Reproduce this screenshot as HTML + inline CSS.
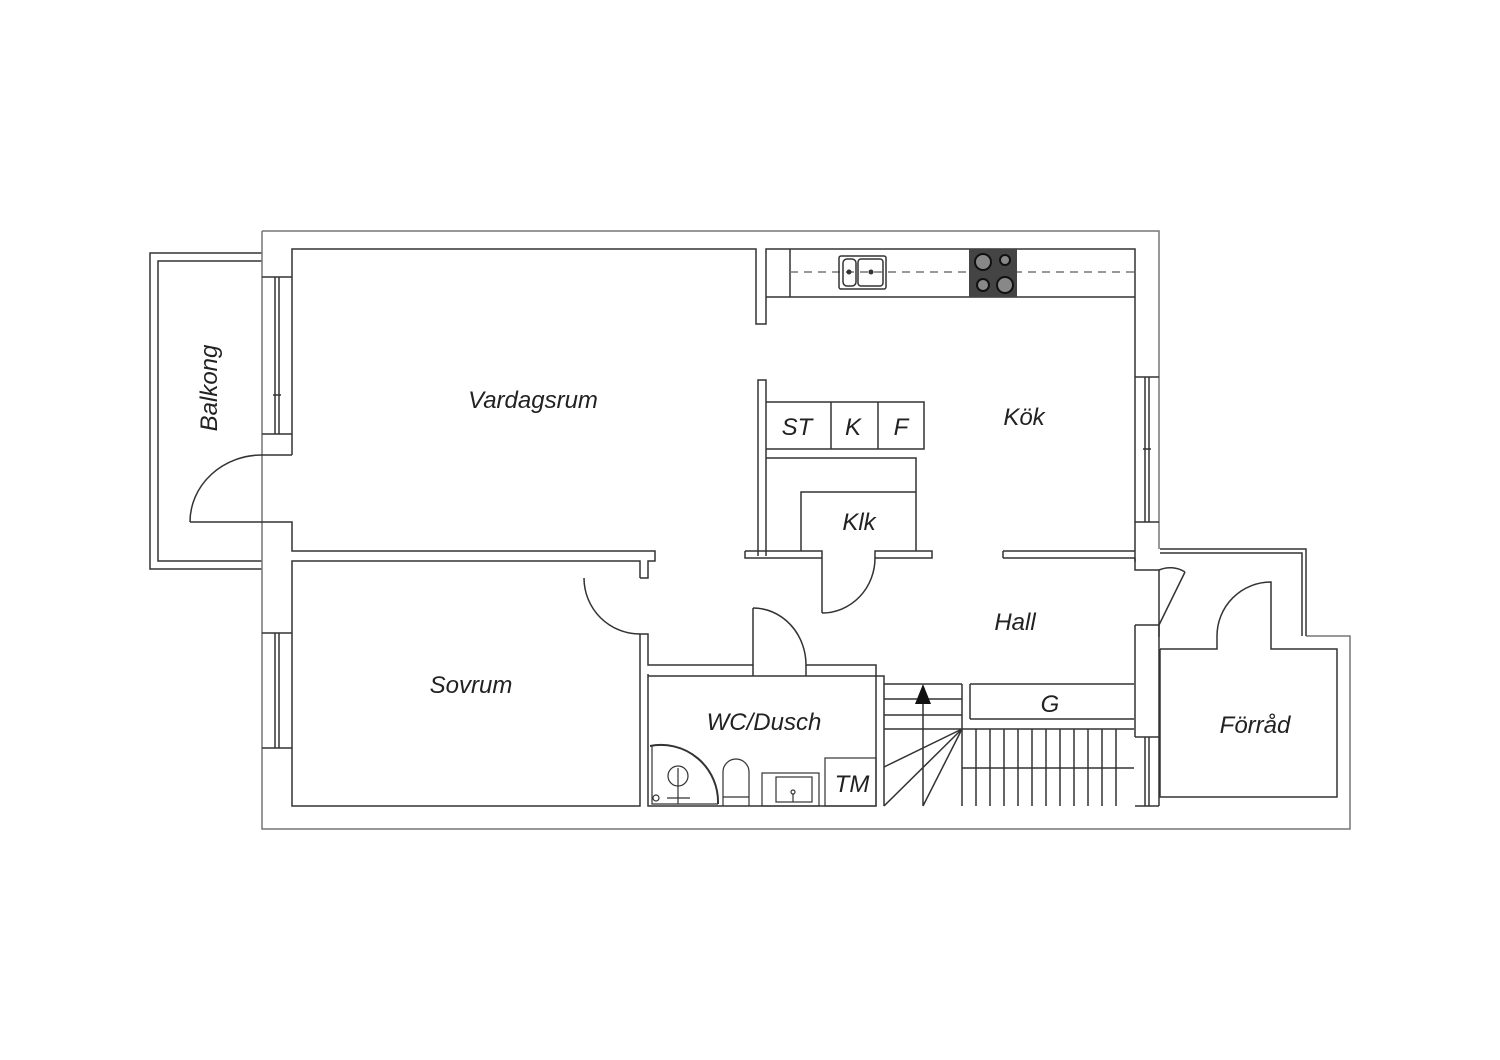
<!DOCTYPE html>
<html><head><meta charset="utf-8"><style>
html,body{margin:0;padding:0;background:#fff;}
svg{display:block;}
text{font-family:"Liberation Sans",sans-serif;font-style:italic;fill:#222;}
</style></head><body>
<svg width="1500" height="1060" viewBox="0 0 1500 1060" xmlns="http://www.w3.org/2000/svg">
<g fill="none" stroke="#333" stroke-width="1.5">
<!-- balcony -->
<path d="M262,253 H150 V569 H262"/>
<path d="M262,261 H158 V561 H262"/>
<!-- outer boundary -->
<path d="M262,231 H1159 V549" stroke="#777"/>
<path d="M262,231 V829 H1350 V636 H1306" stroke="#777"/>
<!-- storage corridor rail -->
<path d="M1160,549 H1306 V636"/>
<path d="M1160,553 H1302 V636"/>
<!-- left wall windows -->
<path d="M262,277 H292 M262,434 H292 M275,277 V434 M279,277 V434 M273,395 H281"/>
<path d="M262,633 H292 M262,748 H292 M275,633 V748 M279,633 V748"/>
<!-- Vardagsrum inner -->
<path d="M292,455 V249 H756 V324 H766 V249 H1135 V551"/>
<path d="M262,455 H292 M262,522 H292 V551 H655 V561 H648 V578 H640"/>
<!-- balcony door -->
<path d="M190,522 H262"/>
<path d="M262,455 A72,67 0 0 0 190,522"/>
<!-- Sovrum -->
<path d="M640,578 V561 H292 V806 H640 V634 H648 V665 H753 V608"/>
<path d="M584,578 A56,56 0 0 0 640,634"/>
<!-- WC -->
<path d="M753,608 A53,57 0 0 1 806,665 H876 V676 H884 V806"/>
<path d="M648,674 V806 H876 V676 H806 M806,665 V676 H753 M753,665 V676 H648"/>
<!-- kitchen right wall & windows -->
<path d="M1135,551 V562 H1135"/>
<path d="M1135,377 H1159 M1135,522 H1159 M1145,377 V522 M1149,377 V522 M1143,449 H1151"/>
<path d="M1003,551 H1135 M1003,558 H1135 M1003,551 V558 M1135,558 V570 H1159 M1135,625 V737 M1135,737 H1159 M1135,806 H1159 M1145,737 V806 M1149,737 V806 M1159,625 V806"/>
<path d="M1135,625 H1159 M1159,570 V637"/>
<path d="M1159,625 L1185,572 M1159,570 A28,28 0 0 1 1185,572"/>
<!-- Förråd -->
<path d="M1160,649 H1217 V636 M1271,636 V649 H1337 V797 H1160 V649"/>
<path d="M1217,636 A54,54 0 0 1 1271,582 V636"/>
<!-- counter -->
<path d="M766,297 H1135 M790,249 V297"/>
<path d="M790,272 H1135" stroke="#777" stroke-dasharray="8,6"/>
<rect x="839" y="256" width="47" height="33" rx="2"/>
<rect x="843" y="259" width="13" height="27" rx="4"/>
<rect x="858" y="259" width="25" height="27" rx="3"/>
<!-- closet -->
<path d="M758,556 V380 H766 V556"/>
<path d="M766,402 H924 V449 H766 M831,402 V449 M878,402 V449"/>
<path d="M766,458 H916 V551 M801,551 V492 H916"/>
<path d="M745,551 H822 V558 M745,551 V558 H822 M875,551 H932 V558 H875 Z"/>
<path d="M822,613 A53,55 0 0 0 875,558"/>
<path d="M822,558 V613"/>
<!-- stairs -->
<path d="M884,684 H962 M884,699 H962 M884,715 H962 M884,729 H1134 M962,684 V806 M970,684 H1134 M970,719 H1134 M970,684 V719 M962,768 H1134"/>
<path d="M976,729V806M990,729V806M1004,729V806M1018,729V806M1032,729V806M1046,729V806M1060,729V806M1074,729V806M1088,729V806M1102,729V806M1116,729V806"/>
<path d="M962,729 L884,767 M962,729 L884,806 M962,729 L923,806 M923,806 V700"/>
</g>
<polygon points="923,684 915,704 931,704" fill="#111"/>
<!-- hob -->
<rect x="969" y="249" width="48" height="48" fill="#444"/>
<g fill="#888" stroke="#111" stroke-width="2">
<circle cx="983" cy="262" r="8"/><circle cx="1005" cy="260" r="5"/>
<circle cx="983" cy="285" r="6"/><circle cx="1005" cy="285" r="8"/>
</g>
<circle cx="849" cy="272" r="2.5" fill="#333"/><circle cx="871" cy="272" r="2.5" fill="#333"/>
<!-- WC fixtures -->
<g fill="none" stroke="#333" stroke-width="1.2">
<path d="M650,746 A57,57 0 0 1 718,804" stroke-width="2"/>
<path d="M652,746 V804 H718"/>
<circle cx="678" cy="776" r="10"/>
<path d="M678,768 V804 M667,798 H690"/>
<circle cx="656" cy="798" r="3"/>
<path d="M723,806 V772 A13,13 0 0 1 749,772 V806 M723,797 H749"/>
<rect x="762" y="773" width="57" height="33"/>
<rect x="776" y="777" width="36" height="25"/>
<path d="M793,794 V802"/><circle cx="793" cy="792" r="2"/>
<rect x="825" y="758" width="51" height="48"/>
</g>
<!-- labels -->
<g font-size="24">
<text x="533" y="408" text-anchor="middle">Vardagsrum</text>
<text x="1024" y="425" text-anchor="middle">Kök</text>
<text x="797" y="435" text-anchor="middle">ST</text>
<text x="853" y="435" text-anchor="middle">K</text>
<text x="901" y="435" text-anchor="middle">F</text>
<text x="859" y="530" text-anchor="middle">Klk</text>
<text x="1015" y="630" text-anchor="middle">Hall</text>
<text x="471" y="693" text-anchor="middle">Sovrum</text>
<text x="764" y="730" text-anchor="middle">WC/Dusch</text>
<text x="852" y="792" text-anchor="middle">TM</text>
<text x="1050" y="712" text-anchor="middle">G</text>
<text x="1255" y="733" text-anchor="middle">Förråd</text>
<text transform="translate(217,388) rotate(-90)" text-anchor="middle">Balkong</text>
</g>
</svg>
</body></html>
